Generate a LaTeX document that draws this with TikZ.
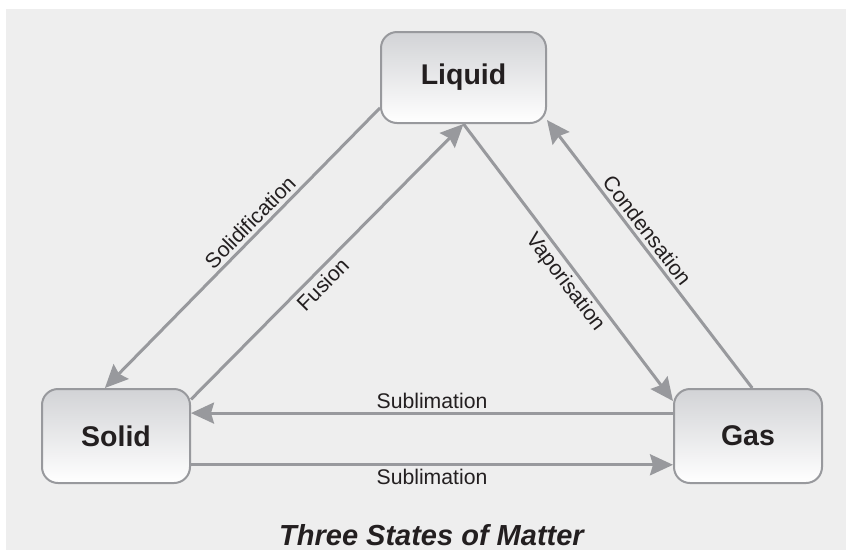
\documentclass[tikz,border=0pt]{standalone}
\usepackage{fontspec}
\setmainfont{Liberation Sans}
\usetikzlibrary{positioning,arrows.meta}
\definecolor{bggray}{HTML}{EEEEEE}
\definecolor{linegray}{HTML}{98999D}
\definecolor{boxtop}{HTML}{D2D3D6}
\definecolor{inkblack}{HTML}{231F20}
\begin{document}
\begin{tikzpicture}[x=1pt, y=-1pt,
                state/.style={draw=linegray, line width=2pt, rounded corners=16pt, top color=boxtop, bottom color=white,
                        minimum width=148pt, minimum height=94pt, text=inkblack, font=\bfseries\fontsize{28.5}{32}\selectfont},
                trans/.style={draw=linegray, line width=3pt, -{Stealth[length=23pt,width=21pt,inset=3pt]}},
                lbl/.style={text=inkblack, font=\fontsize{21.2}{24}\selectfont, sloped}]
                \useasboundingbox (0,0) rectangle (846,550);
                \fill[white] (0,0) rectangle (846,550);
                \fill[bggray] (6,9) rectangle (846,550);

                \node[state, minimum width=165pt, minimum height=91pt] (liquid) at (463.5,77.5) {Liquid};
                \node[state] (solid) at (116,436) {Solid};
                \node[state, right=482pt of solid] (gas) {Gas};

                \draw[trans] (liquid.200) -- node[lbl, above, pos=0.44] {Solidification} (solid.103);
                \draw[trans] (solid.26) -- node[lbl, below, pos=0.45] {Fusion} (liquid.south);
                \draw[trans] (liquid.south) -- node[lbl, below, pos=0.54] {Vaporisation} (gas.155);
                \draw[trans] (gas.85) -- node[lbl, above, pos=0.56] {Condensation} (liquid.-27);
                \draw[trans] (gas.163) -- node[lbl, above] {Sublimation} (solid.17);
                \draw[trans] (solid.-21) -- node[lbl, below] {Sublimation} (gas.201);

                \node[text=inkblack, font=\bfseries\itshape\fontsize{29}{32}\selectfont, anchor=base] (title) at (431.5,545) {Three States of Matter};
            \end{tikzpicture}
\end{document}
